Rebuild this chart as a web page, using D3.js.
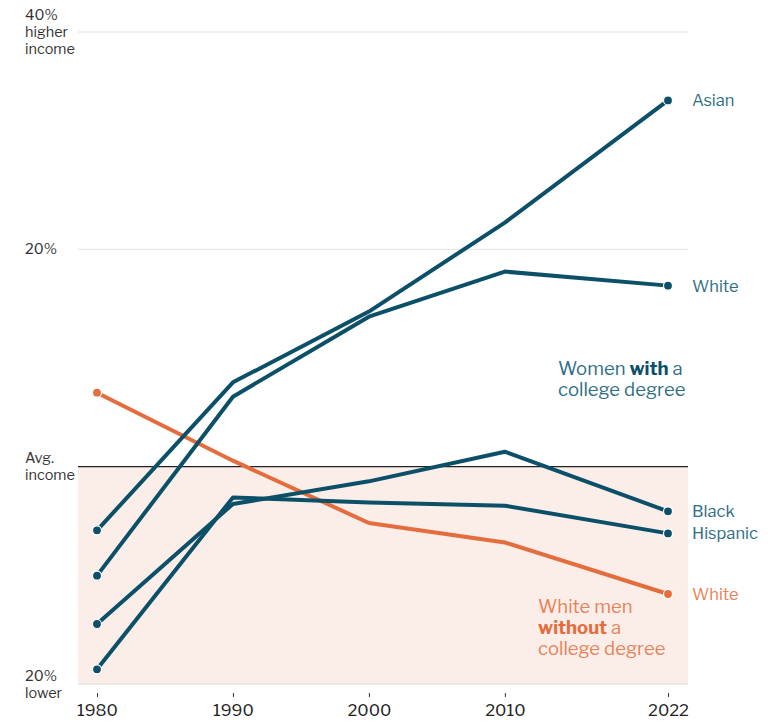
<!DOCTYPE html>
<html><head><meta charset="utf-8">
<script src="https://cdn.jsdelivr.net/npm/d3@7"></script>
<style>body{margin:0;background:#fff}svg{display:block}text{font-family:"Libre Franklin","Roboto","Noto Sans",sans-serif}</style>
</head><body>
<svg id="c" width="768" height="724"></svg>
<script>
const years = [1980, 1990, 2000, 2010, 2022];
const xTicks = [1980, 1990, 2000, 2010, 2022];
const asianWomen = [-5.86, 7.76, 14.27, 22.46, 33.7];
const whiteWomen = [-10.03, 6.44, 13.8, 17.95, 16.66];
const blackWomen = [-14.48, -3.43, -1.35, 1.38, -4.11];
const hispanicWomen = [-18.65, -2.83, -3.29, -3.59, -6.14];
const whiteMenNoDegree = [6.81, 0.55, -5.18, -6.97, -11.72];
const seriesNames = ["Asian", "White", "Black", "Hispanic", "White"];

const teal = "#0b5068", tealText = "#2f6f86", orange = "#e46d3e", orangeText = "#e8825a";
const svg = d3.select("#c");
const x = d3.scaleLinear().domain([1980, 2022]).range([97, 668]);
const y = d3.scaleLinear().domain([-20, 40]).range([684, 32]);
const left = 78, right = 688;

svg.append("rect").attr("x", left).attr("y", y(0)).attr("width", right - left).attr("height", y(-20) - y(0)).attr("fill", "#fbeee9");
[40, 20].forEach(v => svg.append("line").attr("x1", left).attr("x2", right).attr("y1", y(v)).attr("y2", y(v)).attr("stroke", "#e2e2e2").attr("stroke-width", 1));
svg.append("line").attr("x1", left).attr("x2", right).attr("y1", y(-20)).attr("y2", y(-20)).attr("stroke", "#dcdcdc").attr("stroke-width", 1);
svg.append("line").attr("x1", left).attr("x2", right).attr("y1", y(0)).attr("y2", y(0)).attr("stroke", "#222").attr("stroke-width", 1.2);

const yl = svg.append("g").attr("font-size", 14.5).attr("fill", "#333");
function multi(lines, x0, y0) {
  const t = yl.append("text").attr("x", x0).attr("y", y0);
  lines.forEach((l, i) => t.append("tspan").attr("x", x0).attr("dy", i ? 17 : 0).text(l));
}
multi(["40%", "higher", "income"], 25, y(40) - 12);
multi(["20%"], 25, y(20) + 5);
multi(["Avg.", "income"], 25, y(0) - 4);
multi(["20%", "lower"], 25, y(-20) - 3);

const xa = svg.append("g").attr("transform", `translate(0,${y(-20) + 9})`)
  .call(d3.axisBottom(x).tickValues(xTicks).tickFormat(d3.format("d")).tickSize(4).tickPadding(7));
xa.select(".domain").remove();
xa.selectAll(".tick line").attr("stroke", "#333");
xa.selectAll(".tick text").attr("font-size", 16.5).attr("fill", "#222").attr("font-family", "Libre Franklin, Roboto, Noto Sans, sans-serif");

const line = d3.line().x((d, i) => x(years[i])).y(d => y(d));
const all = [
  {v: whiteMenNoDegree, c: orange},
  {v: hispanicWomen, c: teal},
  {v: blackWomen, c: teal},
  {v: whiteWomen, c: teal},
  {v: asianWomen, c: teal}
];
all.forEach(s => {
  svg.append("path").attr("d", line(s.v)).attr("fill", "none").attr("stroke", s.c).attr("stroke-width", 4).attr("stroke-linejoin", "round");
});
all.forEach(s => {
  [0, 4].forEach(i => svg.append("circle").attr("cx", x(years[i])).attr("cy", y(s.v[i])).attr("r", 4.5).attr("fill", s.c).attr("stroke", "#fff").attr("stroke-width", 1.2));
});

const endVals = [asianWomen[4], whiteWomen[4], blackWomen[4], hispanicWomen[4], whiteMenNoDegree[4]];
const endCols = [tealText, tealText, tealText, tealText, orangeText];
endVals.forEach((v, i) => svg.append("text").attr("x", 692).attr("y", y(v) + 6).attr("font-size", 16.5).attr("fill", endCols[i]).text(seriesNames[i]));

const a1 = svg.append("text").attr("x", 558).attr("y", 375).attr("font-size", 18.5).attr("fill", tealText);
a1.append("tspan").text("Women ");
a1.append("tspan").attr("font-weight", "bold").attr("fill", teal).text("with");
a1.append("tspan").text(" a");
a1.append("tspan").attr("x", 558).attr("dy", 21).text("college degree");

const a2 = svg.append("text").attr("x", 538).attr("y", 613).attr("font-size", 18.5).attr("fill", orangeText);
a2.append("tspan").text("White men");
a2.append("tspan").attr("x", 538).attr("dy", 21).attr("font-weight", "bold").attr("fill", orange).text("without");
a2.append("tspan").text(" a");
a2.append("tspan").attr("x", 538).attr("dy", 21).text("college degree");
</script>
</body></html>
